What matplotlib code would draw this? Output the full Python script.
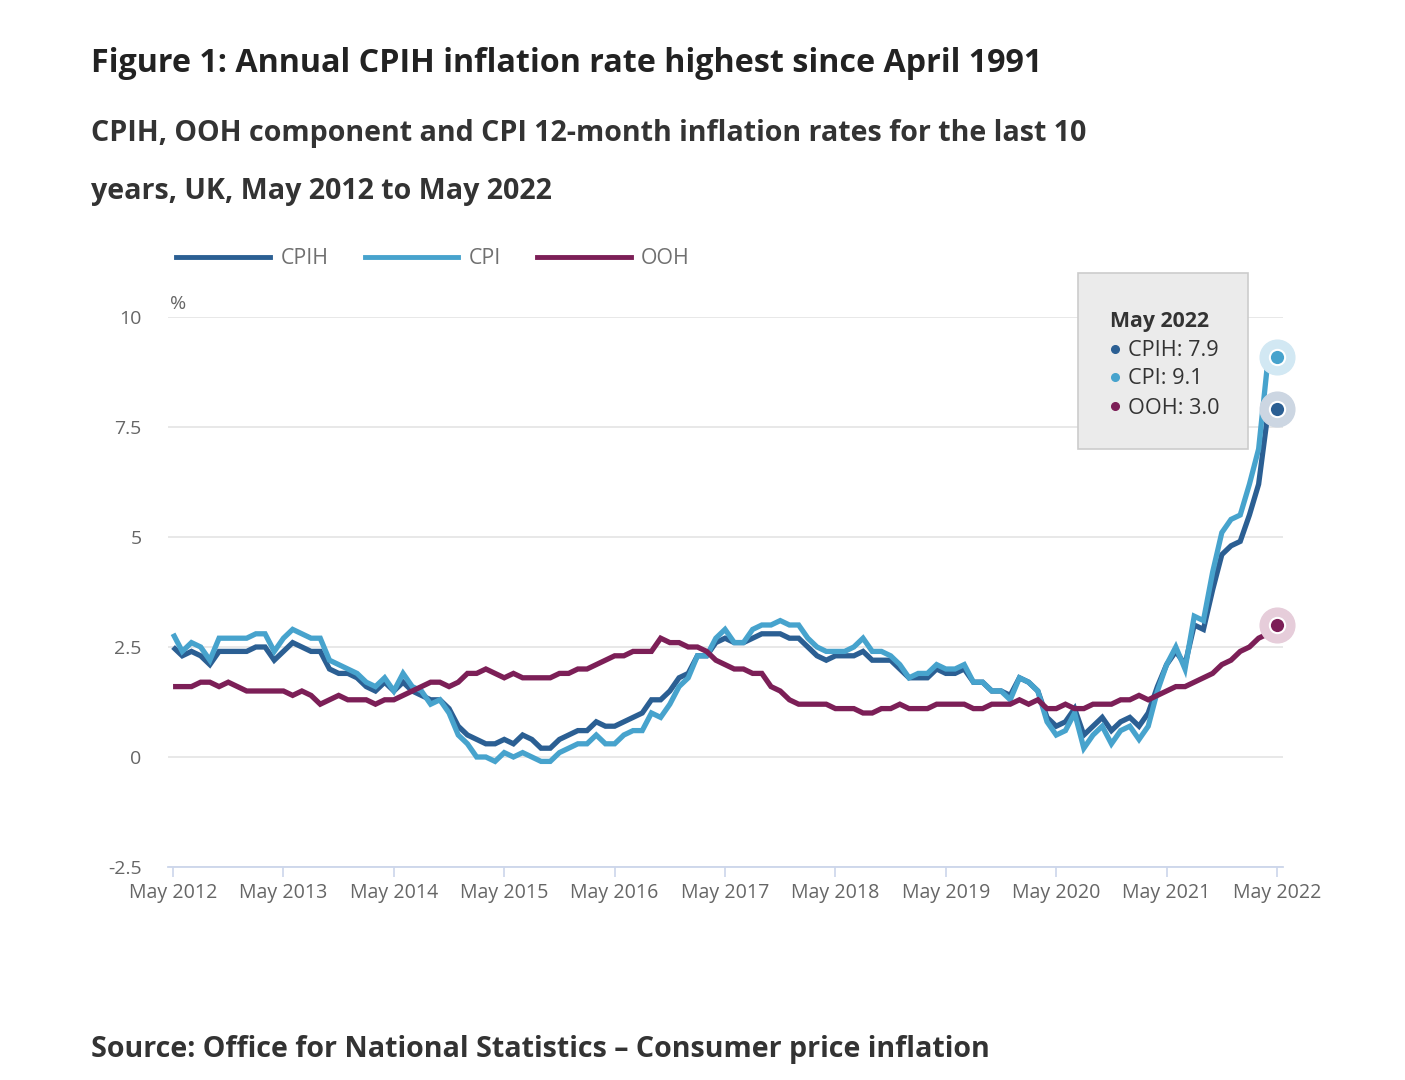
import matplotlib
matplotlib.use('Agg')
import matplotlib.pyplot as plt
from matplotlib.patches import Rectangle
from matplotlib.lines import Line2D
import numpy as np

plt.rcParams['font.family'] = ['Open Sans', 'DejaVu Sans']

# ---- data: monthly 12-month rates, May 2012 .. May 2022 ----
tick_labels = ['May 2012', 'May 2013', 'May 2014', 'May 2015', 'May 2016', 'May 2017',
               'May 2018', 'May 2019', 'May 2020', 'May 2021', 'May 2022']

cpih = [2.5, 2.3, 2.4, 2.3, 2.1, 2.4, 2.4, 2.4,
        2.4, 2.5, 2.5, 2.2, 2.4, 2.6, 2.5, 2.4, 2.4, 2.0, 1.9, 1.9,
        1.8, 1.6, 1.5, 1.7, 1.5, 1.7, 1.5, 1.4, 1.3, 1.3, 1.1, 0.7,
        0.5, 0.4, 0.3, 0.3, 0.4, 0.3, 0.5, 0.4, 0.2, 0.2, 0.4, 0.5,
        0.6, 0.6, 0.8, 0.7, 0.7, 0.8, 0.9, 1.0, 1.3, 1.3, 1.5, 1.8,
        1.9, 2.3, 2.3, 2.6, 2.7, 2.6, 2.6, 2.7, 2.8, 2.8, 2.8, 2.7,
        2.7, 2.5, 2.3, 2.2, 2.3, 2.3, 2.3, 2.4, 2.2, 2.2, 2.2, 2.0,
        1.8, 1.8, 1.8, 2.0, 1.9, 1.9, 2.0, 1.7, 1.7, 1.5, 1.5, 1.4,
        1.8, 1.7, 1.5, 0.9, 0.7, 0.8, 1.1, 0.5, 0.7, 0.9, 0.6, 0.8,
        0.9, 0.7, 1.0, 1.6, 2.1, 2.4, 2.1, 3.0, 2.9, 3.8, 4.6, 4.8,
        4.9, 5.5, 6.2, 7.8, 7.9]

cpi = [2.8, 2.4, 2.6, 2.5, 2.2, 2.7, 2.7, 2.7,
       2.7, 2.8, 2.8, 2.4, 2.7, 2.9, 2.8, 2.7, 2.7, 2.2, 2.1, 2.0,
       1.9, 1.7, 1.6, 1.8, 1.5, 1.9, 1.6, 1.5, 1.2, 1.3, 1.0, 0.5,
       0.3, 0.0, 0.0, -0.1, 0.1, 0.0, 0.1, 0.0, -0.1, -0.1, 0.1, 0.2,
       0.3, 0.3, 0.5, 0.3, 0.3, 0.5, 0.6, 0.6, 1.0, 0.9, 1.2, 1.6,
       1.8, 2.3, 2.3, 2.7, 2.9, 2.6, 2.6, 2.9, 3.0, 3.0, 3.1, 3.0,
       3.0, 2.7, 2.5, 2.4, 2.4, 2.4, 2.5, 2.7, 2.4, 2.4, 2.3, 2.1,
       1.8, 1.9, 1.9, 2.1, 2.0, 2.0, 2.1, 1.7, 1.7, 1.5, 1.5, 1.3,
       1.8, 1.7, 1.5, 0.8, 0.5, 0.6, 1.0, 0.2, 0.5, 0.7, 0.3, 0.6,
       0.7, 0.4, 0.7, 1.5, 2.1, 2.5, 2.0, 3.2, 3.1, 4.2, 5.1, 5.4,
       5.5, 6.2, 7.0, 9.0, 9.1]

ooh = [1.6, 1.6, 1.6, 1.7, 1.7, 1.6, 1.7, 1.6,
       1.5, 1.5, 1.5, 1.5, 1.5, 1.4, 1.5, 1.4, 1.2, 1.3, 1.4, 1.3,
       1.3, 1.3, 1.2, 1.3, 1.3, 1.4, 1.5, 1.6, 1.7, 1.7, 1.6, 1.7,
       1.9, 1.9, 2.0, 1.9, 1.8, 1.9, 1.8, 1.8, 1.8, 1.8, 1.9, 1.9,
       2.0, 2.0, 2.1, 2.2, 2.3, 2.3, 2.4, 2.4, 2.4, 2.7, 2.6, 2.6,
       2.5, 2.5, 2.4, 2.2, 2.1, 2.0, 2.0, 1.9, 1.9, 1.6, 1.5, 1.3,
       1.2, 1.2, 1.2, 1.2, 1.1, 1.1, 1.1, 1.0, 1.0, 1.1, 1.1, 1.2,
       1.1, 1.1, 1.1, 1.2, 1.2, 1.2, 1.2, 1.1, 1.1, 1.2, 1.2, 1.2,
       1.3, 1.2, 1.3, 1.1, 1.1, 1.2, 1.1, 1.1, 1.2, 1.2, 1.2, 1.3,
       1.3, 1.4, 1.3, 1.4, 1.5, 1.6, 1.6, 1.7, 1.8, 1.9, 2.1, 2.2,
       2.4, 2.5, 2.7, 2.8, 3.0]

names = ['CPIH', 'CPI', 'OOH']
colors = {'CPIH': '#2b5f93', 'CPI': '#47a3cd', 'OOH': '#7c1f57'}
halos = {'CPIH': '#ccd6e2', 'CPI': '#d2e8f3', 'OOH': '#e6cdda'}

W, H = 1405, 1080
fig = plt.figure(figsize=(W / 100, H / 100), dpi=100)

def fx(px):
    return px / W

def fy(py):
    return 1 - py / H

ax = fig.add_axes([fx(168), fy(867), fx(1283) - fx(168), fy(317) - fy(867)])

x = np.arange(len(cpih))
series = {'CPIH': cpih, 'CPI': cpi, 'OOH': ooh}
for i, n in enumerate(names):
    ax.plot(x, series[n], color=colors[n], lw=3.8, solid_joinstyle='miter',
            solid_capstyle='butt', zorder=3 + i)
    # end point markers with halo
    ax.plot(x[-1], series[n][-1], 'o', ms=25, color=halos[n], zorder=7, clip_on=False)
    ax.plot(x[-1], series[n][-1], 'o', ms=11, color=colors[n], mec='white', mew=1.5,
            zorder=8, clip_on=False)

ax.set_xlim(-0.55, 120.65)
ax.set_ylim(-2.5, 10)
ax.set_yticks([-2.5, 0, 2.5, 5, 7.5, 10])
ax.set_yticklabels(['-2.5', '0', '2.5', '5', '7.5', '10'])
ax.yaxis.grid(True, color='#e6e6e6', lw=1.3)
ax.set_axisbelow(True)
ax.tick_params(axis='y', length=0, pad=19, labelsize=14, labelcolor='#666666')

ax.set_xticks(np.arange(0, 121, 12))
ax.set_xticklabels(tick_labels)
ax.tick_params(axis='x', length=7.5, width=1.2, color='#ccd6eb', pad=4,
               labelsize=14.1, labelcolor='#666666')

for s in ['top', 'right', 'left']:
    ax.spines[s].set_visible(False)
ax.spines['bottom'].set_color('#ccd6eb')
ax.spines['bottom'].set_linewidth(1.3)

fig.text(fx(170), fy(304), '%', fontsize=14, color='#666666', va='center', ha='left')

# titles
fig.text(fx(91), fy(63), 'Figure 1: Annual CPIH inflation rate highest since April 1991',
         fontsize=23.2, weight='bold', color='#222222', va='center')
fig.text(fx(91), fy(134), 'CPIH, OOH component and CPI 12-month inflation rates for the last 10',
         fontsize=20.6, weight='bold', color='#333333', va='center')
fig.text(fx(91), fy(191), 'years, UK, May 2012 to May 2022',
         fontsize=20.6, weight='bold', color='#333333', va='center')
fig.text(fx(91), fy(1050), 'Source: Office for National Statistics \u2013 Consumer price inflation',
         fontsize=20.6, weight='bold', color='#333333', va='center')

# legend
leg = [(176, 270, 281), (365, 458, 469), (537, 631, 641)]
for n, (x0, x1, tx) in zip(names, leg):
    fig.add_artist(Line2D([fx(x0), fx(x1)], [fy(257), fy(257)], color=colors[n], lw=3.5,
                          transform=fig.transFigure))
    fig.text(fx(tx), fy(259), n, fontsize=15.3, color='#707070', va='center', ha='left')

# tooltip
fig.add_artist(Rectangle((fx(1078), fy(449)), fx(1248) - fx(1078), fy(273) - fy(449),
                         transform=fig.transFigure, fc='#ebebeb', ec='#cccccc', lw=1.2,
                         zorder=5))
fig.text(fx(1110), fy(321), 'May 2022', fontsize=15.3, weight='bold', color='#333333',
         va='center', zorder=6)
rows = [('CPIH', cpih[-1], 349), ('CPI', cpi[-1], 377), ('OOH', ooh[-1], 406)]
for n, v, py in rows:
    fig.add_artist(Line2D([fx(1115)], [fy(py)], marker='o', ms=5.5, color=colors[n],
                          transform=fig.transFigure, zorder=6))
    fig.text(fx(1128), fy(py + 2), '%s: %.1f' % (n, v), fontsize=15.6, color='#333333',
             va='center', zorder=6)

fig.savefig('out.png', dpi=100, facecolor='white')
